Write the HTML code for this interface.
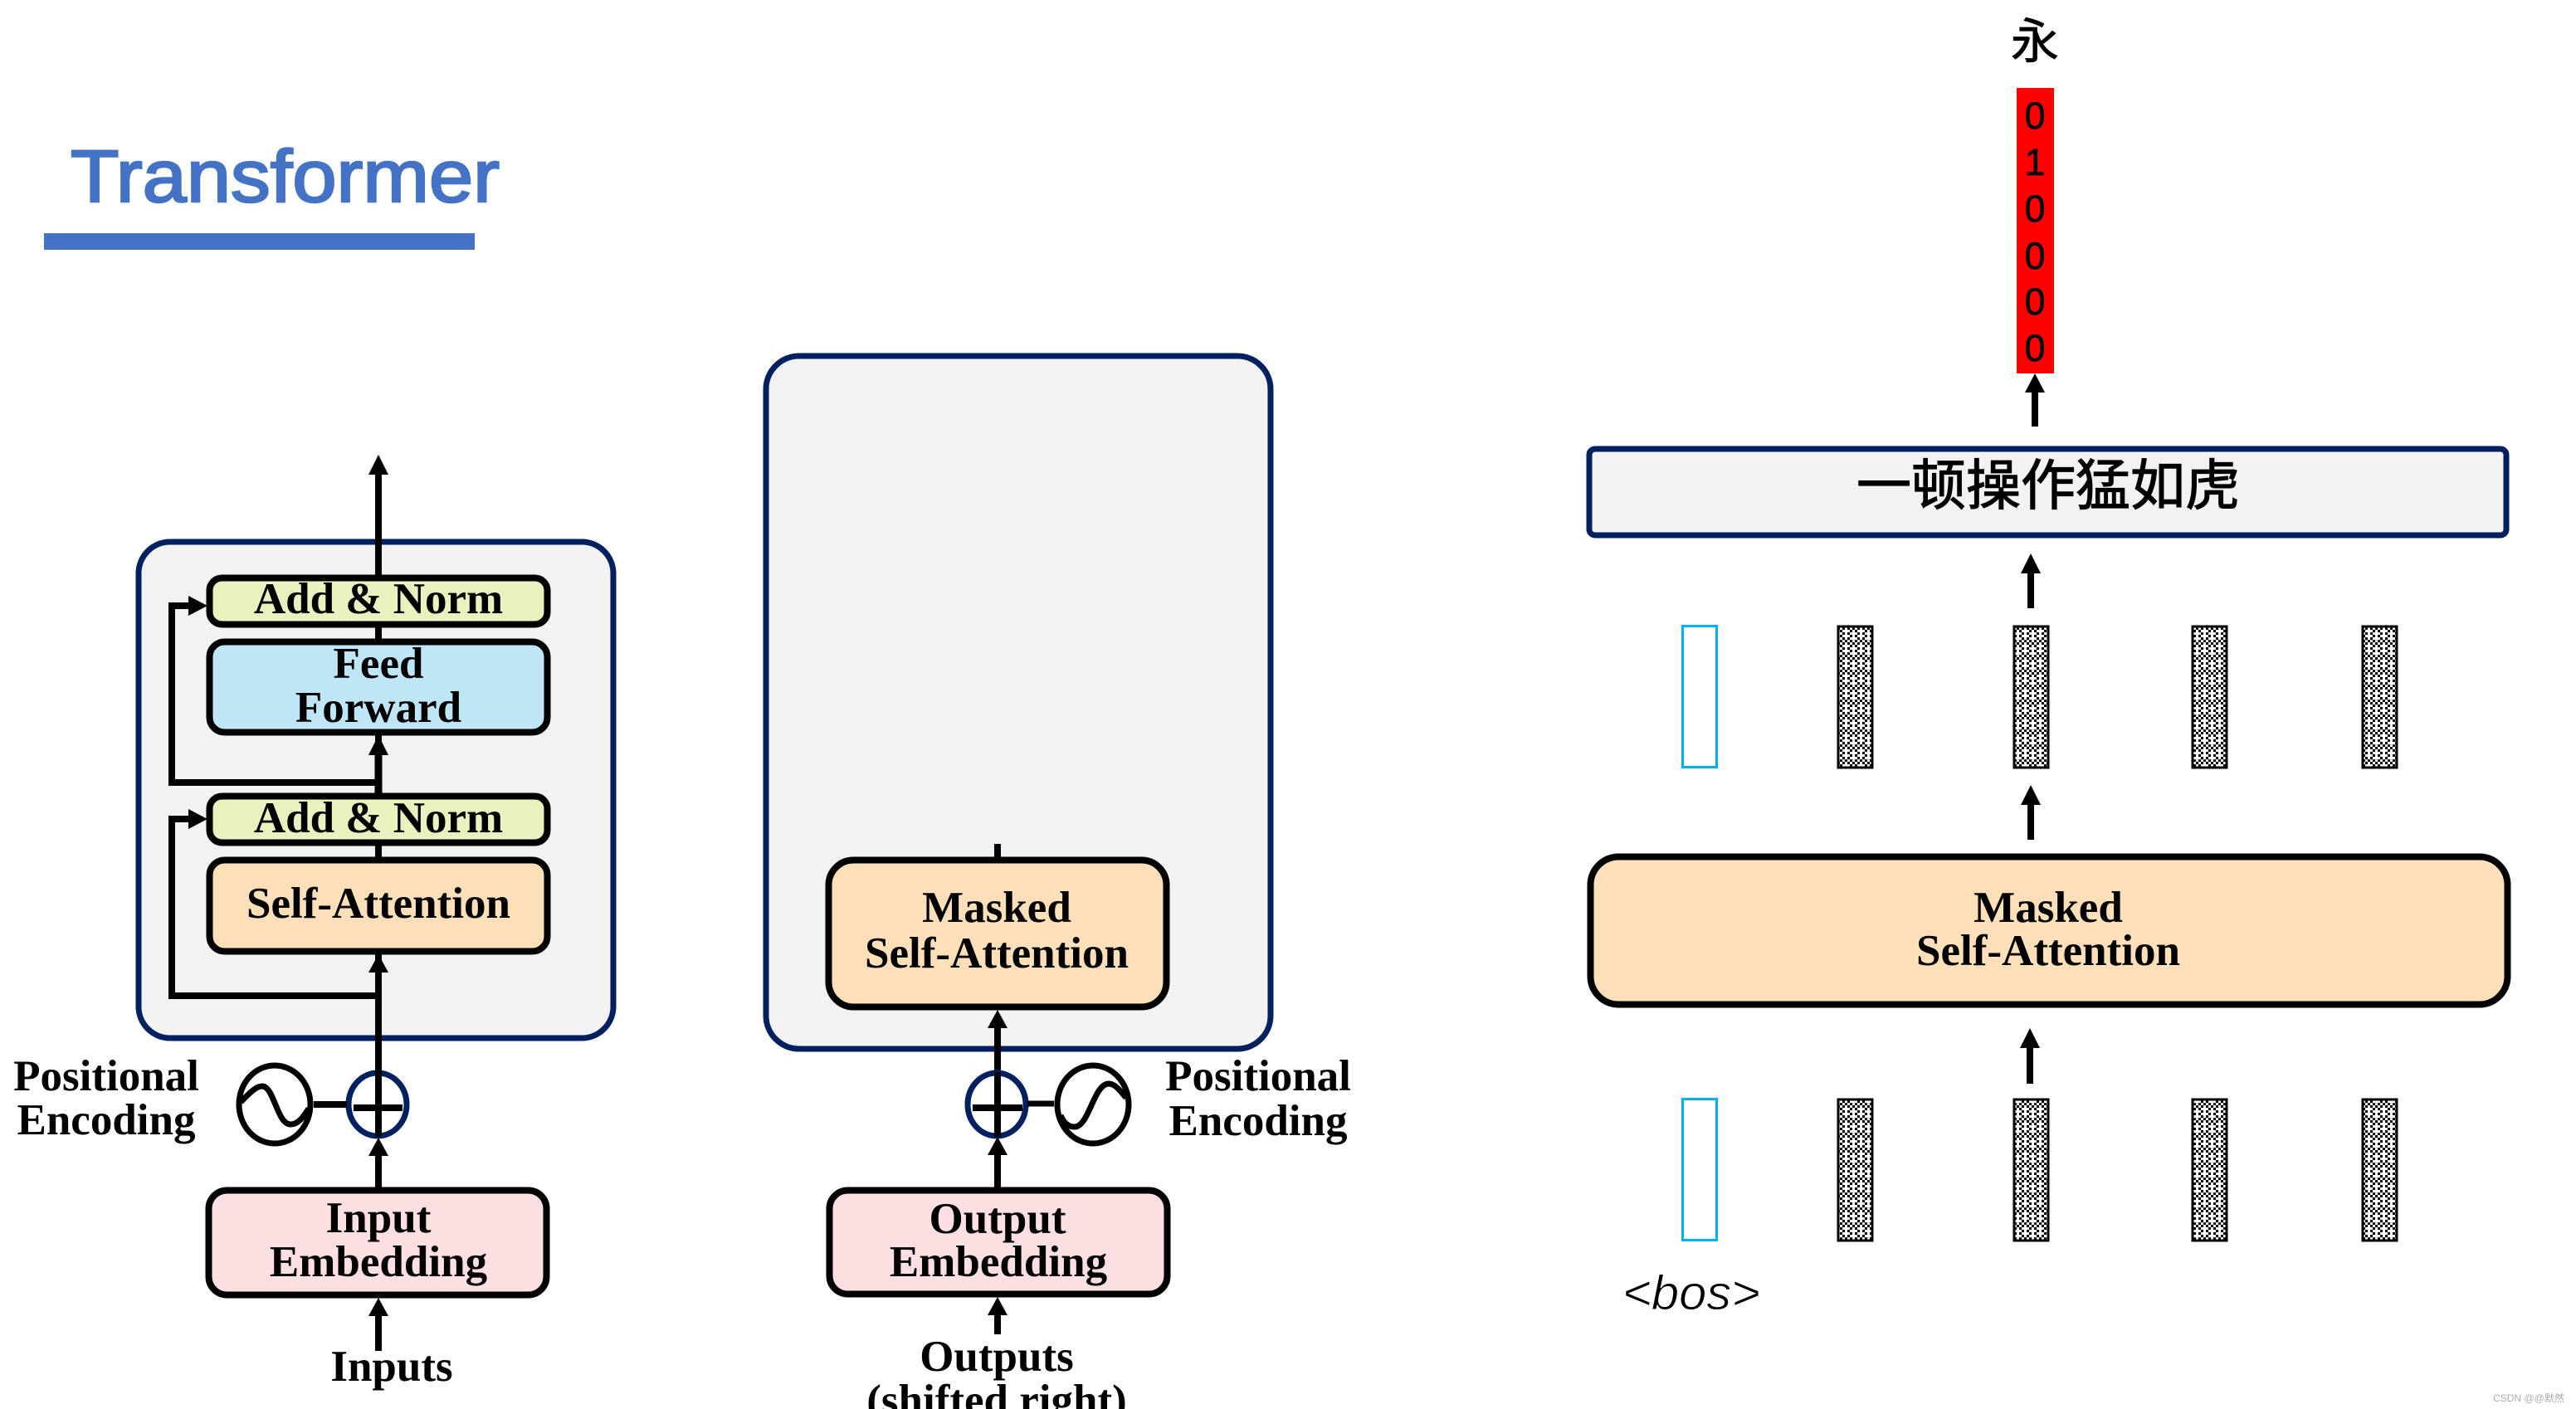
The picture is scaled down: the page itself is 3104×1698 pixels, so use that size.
<!DOCTYPE html>
<html><head><meta charset="utf-8"><style>
html,body{margin:0;padding:0;background:#fff}
svg{display:block}
.t{font-family:"Liberation Serif","Noto Serif CJK SC",serif;font-weight:bold;font-size:53px;text-anchor:middle;fill:#000}
.b{stroke:#000;stroke-width:8;}
.l{stroke:#000;stroke-width:8;fill:none}
.n{stroke:#002060;stroke-width:7}
.d{font-family:"Liberation Sans",sans-serif;font-size:45px;text-anchor:middle;fill:#000;stroke:#000;stroke-width:.7}
</style></head><body>
<svg width="3104" height="1698" viewBox="0 0 3104 1698" xmlns="http://www.w3.org/2000/svg">
<defs>
<pattern id="ck" width="18" height="18" patternUnits="userSpaceOnUse">
<rect width="18" height="18" fill="#fff"/>
<path d="M0 0h3v3H0zM6 0h3v3H6zM12 0h3v3h-3zM3 3h3v3H3zM15 3h3v3h-3zM6 6h3v3H6zM12 6h3v3h-3zM3 9h3v3H3zM15 9h3v3h-3zM6 12h3v3H6zM12 12h3v3h-3zM3 15h3v3H3zM9 15h3v3H9zM15 15h3v3h-3z" fill="#000"/>
<rect x="0" y="15" width="18" height="1" fill="#888" opacity=".4"/>
</pattern>
</defs>
<rect width="3104" height="1698" fill="#fff"/>

<!-- Title -->
<text x="85" y="243" font-family="'Liberation Sans',sans-serif" font-size="89" fill="#4472C4" stroke="#4472C4" stroke-width="2.500" textLength="517" lengthAdjust="spacingAndGlyphs">Transformer</text>
<rect x="53" y="281" width="519" height="20" fill="#4472C4"/>

<!-- Encoder -->
<rect x="167" y="653" width="572" height="598" rx="38" fill="#F2F2F2" class="n"/>
<path d="M456 565V1290" class="l" />
<polygon points="456,548 444,572 468,572" fill="#000"/>
<path d="M456 900V960" stroke="#000" stroke-width="9" fill="none"/>
<polygon points="456,886 444,910 468,910" fill="#000"/>
<polygon points="456,1150 444,1172 468,1172" fill="#000"/>
<path d="M456 943H207V730H230" class="l"/>
<polygon points="250,730 227,718 227,742" fill="#000"/>
<path d="M456 1200H207V987H230" class="l"/>
<polygon points="250,987 227,975 227,999" fill="#000"/>
<rect x="252.500" y="696.500" width="407" height="56" rx="15" fill="#EBF1BE" class="b"/>
<rect x="252.500" y="773.500" width="407" height="109" rx="18" fill="#BFE6F7" class="b"/>
<rect x="252.500" y="959.500" width="407" height="56" rx="15" fill="#EBF1BE" class="b"/>
<rect x="252.500" y="1036.500" width="407" height="110" rx="18" fill="#FDE0BA" class="b"/>
<text x="456" y="739" class="t">Add &amp; Norm</text>
<text x="456" y="817" class="t">Feed</text>
<text x="456" y="870" class="t">Forward</text>
<text x="456" y="1003" class="t">Add &amp; Norm</text>
<text x="456" y="1106" class="t">Self-Attention</text>

<!-- Encoder input -->
<ellipse cx="455" cy="1331" rx="35" ry="38" fill="#fff" class="n"/>
<path d="M426 1335H485M456 1290V1370" class="l"/>
<path d="M378 1331H418" class="l"/>
<ellipse cx="331" cy="1331" rx="43" ry="47" fill="#fff" stroke="#000" stroke-width="7"/>
<path d="M290 1328C300 1318 308 1309 316 1309C330 1309 334 1355 350 1355C360 1355 366 1345 372 1336" fill="none" stroke="#000" stroke-width="7"/>
<polygon points="456,1371 444,1393 468,1393" fill="#000"/>
<path d="M456 1390V1434" class="l"/>
<rect x="251.500" y="1434.500" width="407" height="126" rx="22" fill="#FBDFE1" class="b"/>
<text x="456" y="1485" class="t">Input</text>
<text x="456" y="1538" class="t">Embedding</text>
<polygon points="456,1564 444,1586 468,1586" fill="#000"/>
<path d="M456 1584V1628" class="l"/>
<text x="472" y="1664" class="t">Inputs</text>
<text x="128" y="1314" class="t">Positional</text>
<text x="128" y="1367" class="t">Encoding</text>

<!-- Decoder -->
<rect x="923" y="429" width="608" height="835" rx="40" fill="#F2F2F2" class="n"/>
<path d="M1202 1017V1036" class="l"/>
<rect x="998.500" y="1036.500" width="407" height="177" rx="30" fill="#FDE0BA" class="b"/>
<text x="1201" y="1111" class="t">Masked</text>
<text x="1201" y="1166" class="t">Self-Attention</text>
<polygon points="1202,1217 1190,1239 1214,1239" fill="#000"/>
<path d="M1202 1236V1294" class="l"/>
<ellipse cx="1201" cy="1331" rx="35" ry="38" fill="#fff" class="n"/>
<path d="M1172 1335H1232M1202 1292V1370" class="l"/>
<path d="M1238 1330H1270" class="l" style="stroke-width:7"/>
<ellipse cx="1317" cy="1331" rx="43" ry="47" fill="#fff" stroke="#000" stroke-width="7"/>
<path d="M1278 1344C1282 1354 1288 1358 1295 1358C1312 1358 1318 1306 1336 1306C1344 1306 1350 1315 1357 1323" fill="none" stroke="#000" stroke-width="7"/>
<polygon points="1202,1370 1190,1392 1214,1392" fill="#000"/>
<path d="M1202 1390V1434" class="l"/>
<rect x="999.500" y="1434.500" width="407" height="125" rx="22" fill="#FBDFE1" class="b"/>
<text x="1202" y="1486" class="t">Output</text>
<text x="1203" y="1538" class="t">Embedding</text>
<polygon points="1202,1563 1190,1585 1214,1585" fill="#000"/>
<path d="M1202 1583V1608" class="l"/>
<text x="1201" y="1652" class="t">Outputs</text>
<text x="1201" y="1705" class="t">(shifted right)</text>
<text x="1516" y="1314" class="t">Positional</text>
<text x="1516" y="1368" class="t">Encoding</text>

<!-- Right panel -->
<text x="2452" y="70" font-family="'Noto Sans CJK SC',sans-serif" font-size="58" text-anchor="middle" fill="#000" stroke="#000" stroke-width=".8">永</text>
<rect x="2430" y="106" width="45" height="344" fill="#FF0000"/>
<text x="2452" y="155" class="d">0</text>
<text x="2452" y="211" class="d">1</text>
<text x="2452" y="267" class="d">0</text>
<text x="2452" y="324" class="d">0</text>
<text x="2452" y="379" class="d">0</text>
<text x="2452" y="435" class="d">0</text>
<polygon points="2452,450 2440,473 2464,473" fill="#000"/>
<path d="M2452 470V514" class="l"/>

<rect x="1915" y="541" width="1105" height="104" rx="7" fill="#F2F2F2" class="n"/>
<text x="2468" y="608" font-family="'Noto Sans CJK SC',sans-serif" font-size="66" text-anchor="middle" fill="#000" stroke="#000" stroke-width="1.200">一顿操作猛如虎</text>

<polygon points="2447,667 2435,691 2459,691" fill="#000"/>
<path d="M2447 688V733" class="l"/>

<g fill="url(#ck)" stroke="#000" stroke-width="3">
<rect x="2215" y="755" width="41" height="170"/>
<rect x="2427" y="755" width="41" height="170"/>
<rect x="2642" y="755" width="41" height="170"/>
<rect x="2847" y="755" width="41" height="170"/>
<rect x="2215" y="1325" width="41" height="170"/>
<rect x="2427" y="1325" width="41" height="170"/>
<rect x="2642" y="1325" width="41" height="170"/>
<rect x="2847" y="1325" width="41" height="170"/>
</g>
<rect x="2027.500" y="754.500" width="41" height="170" fill="#fff" stroke="#00B0F0" stroke-width="3"/>
<rect x="2027.500" y="1324.500" width="41" height="170" fill="#fff" stroke="#00B0F0" stroke-width="3"/>

<polygon points="2447,946 2435,970 2459,970" fill="#000"/>
<path d="M2447 967V1012" class="l"/>

<rect x="1916.500" y="1032.500" width="1105" height="178" rx="34" fill="#FDE0BA" class="b"/>
<text x="2468" y="1111" class="t">Masked</text>
<text x="2468" y="1163" class="t">Self-Attention</text>

<polygon points="2446,1239 2434,1263 2458,1263" fill="#000"/>
<path d="M2446 1260V1306" class="l"/>

<text x="1955" y="1578" font-family="'Liberation Sans',sans-serif" font-style="italic" font-size="58" fill="#000" stroke="#fff" stroke-width=".9" textLength="166" lengthAdjust="spacingAndGlyphs">&lt;bos&gt;</text>
<text x="3047" y="1689" font-family="'Liberation Sans','Noto Sans CJK SC',sans-serif" font-size="12" text-anchor="middle" fill="#aaa">CSDN @@默然</text>
</svg>
</body></html>
